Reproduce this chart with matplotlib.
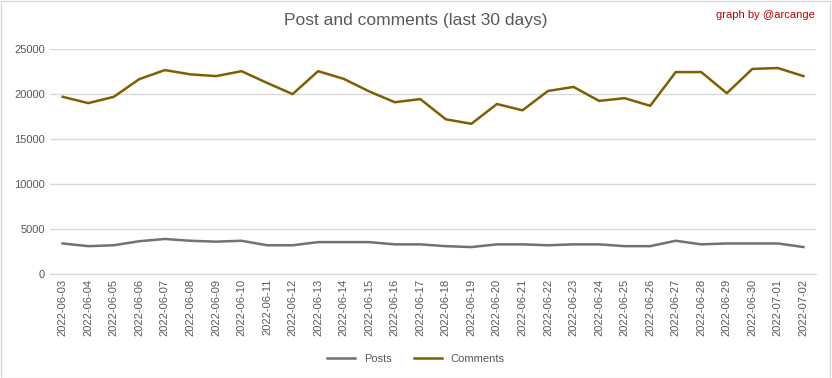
import matplotlib.pyplot as plt
import matplotlib.patches as mpatches

dates = ["2022-06-%02d" % d for d in range(3, 31)] + ["2022-07-01", "2022-07-02"]

posts = [3400, 3100, 3200, 3650, 3900, 3700, 3600, 3700, 3200, 3200,
         3550, 3550, 3550, 3300, 3300, 3100, 3000, 3300, 3300, 3200,
         3300, 3300, 3100, 3100, 3700, 3300, 3400, 3400, 3400, 3000]

comments = [19700, 19000, 19700, 21670, 22670, 22200, 22000, 22550, 21250, 20000,
            22550, 21700, 20300, 19100, 19450, 17200, 16700, 18900, 18200, 20350,
            20800, 19250, 19550, 18700, 22450, 22450, 20100, 22800, 22900, 22000]

plt.rcParams['font.family'] = ['Liberation Sans', 'DejaVu Sans']

fig = plt.figure(figsize=(8.32, 3.78), dpi=100)
ax = fig.add_axes([0.060, 0.275, 0.921, 0.595])

x = range(len(dates))
ax.plot(x, posts, color='#767171', lw=1.8, label='Posts')
ax.plot(x, comments, color='#7F6000', lw=1.8, label='Comments')

ax.set_xlim(-0.5, len(dates) - 0.5)
ax.set_ylim(0, 25000)
ax.set_yticks(range(0, 25001, 5000))
ax.set_xticks(list(x))
ax.set_xticklabels(dates, rotation=90, fontsize=8, color='#595959')
ax.tick_params(axis='y', labelsize=8, labelcolor='#595959', length=0)
ax.tick_params(axis='x', length=0)
ax.grid(axis='y', color='#D9D9D9', lw=1)
ax.set_axisbelow(True)
for s in ['top', 'right', 'left']:
    ax.spines[s].set_visible(False)
ax.spines['bottom'].set_color('#D9D9D9')

fig.text(0.5, 0.945, "Post and comments (last 30 days)", ha='center', va='center',
         fontsize=12.5, color='#595959')
fig.text(0.98, 0.96, "graph by @arcange", ha='right', va='center',
         fontsize=8, color='#C00000')

fig.legend(loc='lower center', bbox_to_anchor=(0.5, 0.01), ncol=2, frameon=False,
           fontsize=8, labelcolor='#595959', handlelength=2.5)

fig.patches.append(mpatches.Rectangle((0.001, 0.001), 0.997, 0.996, transform=fig.transFigure,
                                      fill=False, edgecolor='#D9D9D9', lw=1))

fig.savefig('out.png', dpi=100)
